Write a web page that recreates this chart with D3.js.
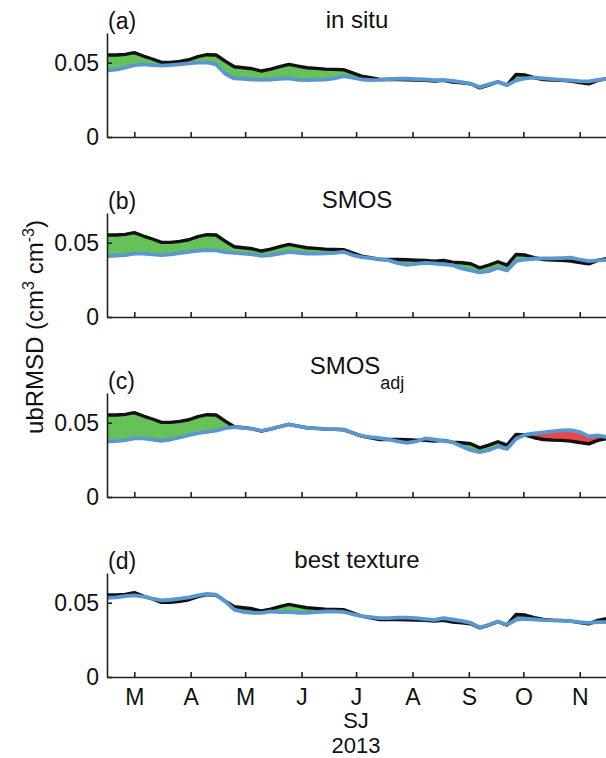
<!DOCTYPE html>
<html>
<head>
<meta charset="utf-8">
<script src="https://cdn.jsdelivr.net/npm/d3@7"></script>
<style>
  body { margin: 0; background: #fff; }
  svg text { font-family: "Liberation Sans", Arial, Helvetica, sans-serif; fill: #111; }
</style>
</head>
<body>
<script>
// samples every 5 days, starting 14 Feb 2013
var startDate = new Date(2013, 1, 14);
var stepDays = 5;

// reference run (black), identical in every panel
var reference = [0.0552, 0.0552, 0.0556, 0.0568, 0.0545, 0.0525, 0.0502, 0.0502, 0.0509, 0.0520,
  0.0541, 0.0554, 0.0552, 0.0511, 0.0473, 0.0466, 0.0459, 0.0444, 0.0457, 0.0473,
  0.0489, 0.0477, 0.0466, 0.0462, 0.0457, 0.0455, 0.0453, 0.0432, 0.0410, 0.0399,
  0.0387, 0.0387, 0.0387, 0.0385, 0.0383, 0.0381, 0.0376, 0.0381, 0.0369, 0.0365,
  0.0358, 0.0331, 0.0349, 0.0372, 0.0349, 0.0421, 0.0417, 0.0399, 0.0387, 0.0383,
  0.0381, 0.0376, 0.0367, 0.0358, 0.0381, 0.0394];

// texture runs (blue)
var inSitu = [0.0448, 0.0453, 0.0466, 0.0484, 0.0489, 0.0484, 0.0480, 0.0484, 0.0489, 0.0495,
  0.0500, 0.0502, 0.0489, 0.0426, 0.0394, 0.0392, 0.0387, 0.0385, 0.0387, 0.0392,
  0.0394, 0.0385, 0.0383, 0.0385, 0.0387, 0.0394, 0.0410, 0.0399, 0.0387, 0.0383,
  0.0385, 0.0390, 0.0392, 0.0392, 0.0390, 0.0387, 0.0383, 0.0385, 0.0378, 0.0369,
  0.0358, 0.0336, 0.0354, 0.0372, 0.0349, 0.0381, 0.0394, 0.0399, 0.0394, 0.0390,
  0.0385, 0.0381, 0.0376, 0.0374, 0.0385, 0.0392];

var smos = [0.0410, 0.0414, 0.0417, 0.0426, 0.0426, 0.0421, 0.0417, 0.0421, 0.0430, 0.0439,
  0.0446, 0.0450, 0.0448, 0.0437, 0.0432, 0.0426, 0.0421, 0.0412, 0.0417, 0.0426,
  0.0439, 0.0432, 0.0426, 0.0426, 0.0428, 0.0432, 0.0439, 0.0417, 0.0403, 0.0396,
  0.0390, 0.0381, 0.0363, 0.0351, 0.0358, 0.0365, 0.0360, 0.0354, 0.0349, 0.0327,
  0.0313, 0.0300, 0.0309, 0.0331, 0.0313, 0.0376, 0.0387, 0.0392, 0.0394, 0.0394,
  0.0396, 0.0399, 0.0387, 0.0376, 0.0381, 0.0383];

var smosAdj = [0.0374, 0.0376, 0.0383, 0.0394, 0.0394, 0.0387, 0.0378, 0.0387, 0.0401, 0.0417,
  0.0430, 0.0439, 0.0446, 0.0464, 0.0471, 0.0466, 0.0459, 0.0446, 0.0459, 0.0473,
  0.0489, 0.0477, 0.0466, 0.0462, 0.0459, 0.0457, 0.0455, 0.0432, 0.0412, 0.0403,
  0.0396, 0.0387, 0.0374, 0.0365, 0.0374, 0.0394, 0.0387, 0.0378, 0.0369, 0.0342,
  0.0315, 0.0302, 0.0315, 0.0340, 0.0324, 0.0392, 0.0419, 0.0428, 0.0435, 0.0441,
  0.0448, 0.0450, 0.0437, 0.0408, 0.0414, 0.0403];

var bestTexture = [0.0532, 0.0536, 0.0545, 0.0550, 0.0541, 0.0527, 0.0516, 0.0520, 0.0527, 0.0536,
  0.0550, 0.0559, 0.0554, 0.0509, 0.0453, 0.0439, 0.0432, 0.0432, 0.0441, 0.0437,
  0.0439, 0.0432, 0.0432, 0.0437, 0.0441, 0.0441, 0.0439, 0.0423, 0.0410, 0.0403,
  0.0396, 0.0396, 0.0399, 0.0399, 0.0396, 0.0390, 0.0385, 0.0396, 0.0387, 0.0378,
  0.0365, 0.0333, 0.0351, 0.0374, 0.0351, 0.0387, 0.0392, 0.0387, 0.0383, 0.0381,
  0.0378, 0.0376, 0.0369, 0.0365, 0.0369, 0.0369];

var panelLetters = ["(a)", "(b)", "(c)", "(d)"];
var panelTitles = ["in situ", "SMOS", "SMOS", "best texture"];
var titleSubs = ["", "", "adj", ""];
var monthLabels = ["M", "A", "M", "J", "J", "A", "S", "O", "N"];
var yTicks = [0, 0.05];

var series = [inSitu, smos, smosAdj, bestTexture];
var dates = reference.map(function (d, i) { return d3.timeDay.offset(startDate, i * stepDays); });

var width = 606, height = 758;
var left = 107, right = 607;
var panelTops = [33, 213, 393, 573];
var panelH = 104;
var fontSize = 23;

var svg = d3.select("body").append("svg")
  .attr("width", width)
  .attr("height", height);

var x = d3.scaleTime()
  .domain([startDate, dates[dates.length - 1]])
  .range([left, right]);

var monthTicks = d3.timeMonth.range(new Date(2013, 2, 1), new Date(2013, 10, 2));

series.forEach(function (blue, p) {
  var top = panelTops[p];
  var y = d3.scaleLinear().domain([0, 0.07]).range([top + panelH, top]);
  var g = svg.append("g");

  var rows = dates.map(function (d, i) { return { date: d, ref: reference[i], tex: blue[i] }; });

  // clip regions above / below the blue line
  var above = d3.area().x(function (d) { return x(d.date); }).y0(top - 20).y1(function (d) { return y(d.tex); });
  var below = d3.area().x(function (d) { return x(d.date); }).y0(top + panelH + 20).y1(function (d) { return y(d.tex); });
  g.append("clipPath").attr("id", "above" + p).append("path").attr("d", above(rows));
  g.append("clipPath").attr("id", "below" + p).append("path").attr("d", below(rows));

  var between = d3.area()
    .x(function (d) { return x(d.date); })
    .y0(function (d) { return y(d.tex); })
    .y1(function (d) { return y(d.ref); });

  // green where reference is higher, red where texture run is higher
  g.append("path").attr("d", between(rows)).attr("fill", "#66c158").attr("clip-path", "url(#above" + p + ")");
  g.append("path").attr("d", between(rows)).attr("fill", "#e8484b").attr("clip-path", "url(#below" + p + ")");

  var line = d3.line().x(function (d) { return x(d.date); });
  g.append("path").attr("d", line.y(function (d) { return y(d.ref); })(rows))
    .attr("fill", "none").attr("stroke", "#111").attr("stroke-width", 3.4).attr("stroke-linejoin", "round");
  g.append("path").attr("d", line.y(function (d) { return y(d.tex); })(rows))
    .attr("fill", "none").attr("stroke", "#5b97cf").attr("stroke-width", 3.8).attr("stroke-linejoin", "round");

  // axes
  var xAxis = d3.axisBottom(x).tickValues(monthTicks).tickSizeInner(-5).tickSizeOuter(0).tickPadding(12)
    .tickFormat(function (d, i) { return p === 3 ? monthLabels[i] : ""; });
  var gx = g.append("g").attr("transform", "translate(0," + (top + panelH) + ")").call(xAxis);
  var yAxis = d3.axisLeft(y).tickValues(yTicks).tickSizeInner(-5).tickSizeOuter(0).tickPadding(8)
    .tickFormat(function (d) { return d === 0 ? "0" : d3.format(".2f")(d); });
  var gy = g.append("g").attr("transform", "translate(" + left + ",0)").call(yAxis);

  [gx, gy].forEach(function (a) {
    a.selectAll("path, line").attr("stroke", "#222").attr("stroke-width", 1.6);
    a.selectAll("text").attr("font-size", fontSize).attr("fill", "#111")
      .attr("font-family", "Liberation Sans, Arial, sans-serif");
  });

  g.append("text").attr("x", left + 1).attr("y", top - 4).attr("font-size", fontSize).text(panelLetters[p]);

  var t = g.append("text").attr("x", (left + right) / 2).attr("text-anchor", "middle").attr("font-size", fontSize + 1);
  if (titleSubs[p]) {
    t.attr("y", top - 19);
    t.append("tspan").text(panelTitles[p]);
    t.append("tspan").attr("dy", 15).attr("font-size", 18).text(titleSubs[p]);
  } else {
    t.attr("y", top - 5).text(panelTitles[p]);
  }
});

// shared y label
var yl = svg.append("text")
  .attr("transform", "translate(43,327) rotate(-90)")
  .attr("text-anchor", "middle")
  .attr("font-size", 24);
yl.append("tspan").text("ubRMSD (cm");
yl.append("tspan").attr("dy", -9).attr("font-size", 16).text("3");
yl.append("tspan").attr("dy", 9).text(" cm");
yl.append("tspan").attr("dy", -9).attr("font-size", 16).text("-3");
yl.append("tspan").attr("dy", 9).text(")");

svg.append("text").attr("x", 356).attr("y", 728).attr("text-anchor", "middle").attr("font-size", 22).text("SJ");
svg.append("text").attr("x", 356).attr("y", 752.5).attr("text-anchor", "middle").attr("font-size", 22).text("2013");
</script>
</body>
</html>
